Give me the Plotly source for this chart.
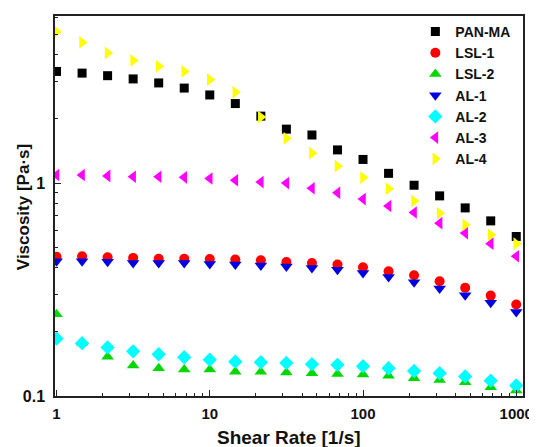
import plotly.graph_objects as go

shear_rate = [1, 1.468, 2.154, 3.162, 4.642, 6.813, 10, 14.68, 21.54, 31.62,
              46.42, 68.13, 100, 146.8, 215.4, 316.2, 464.2, 681.3, 1000]

pan_ma = [3.34, 3.28, 3.19, 3.08, 2.95, 2.79, 2.59, 2.36, 2.06, 1.79,
          1.68, 1.43, 1.29, 1.11, 0.976, 0.87, 0.764, 0.664, 0.561]
lsl_1 = [0.450, 0.453, 0.448, 0.445, 0.441, 0.441, 0.440, 0.437, 0.434, 0.426,
         0.421, 0.414, 0.402, 0.385, 0.369, 0.346, 0.322, 0.296, 0.269]
lsl_2 = [0.242, 0.178, 0.153, 0.139, 0.135, 0.133, 0.133, 0.130, 0.130, 0.129,
         0.128, 0.127, 0.126, 0.1245, 0.121, 0.119, 0.116, 0.110, 0.106]
al_1 = [0.429, 0.429, 0.427, 0.421, 0.421, 0.421, 0.417, 0.414, 0.410, 0.406,
        0.399, 0.392, 0.378, 0.362, 0.342, 0.320, 0.297, 0.274, 0.248]
al_2 = [0.186, 0.177, 0.169, 0.162, 0.157, 0.152, 0.148, 0.145, 0.144, 0.143,
        0.141, 0.140, 0.138, 0.135, 0.131, 0.128, 0.1236, 0.118, 0.112]
al_3 = [1.09, 1.09, 1.08, 1.07, 1.07, 1.063, 1.05, 1.03, 1.01, 0.999,
        0.945, 0.90, 0.84, 0.78, 0.727, 0.648, 0.582, 0.519, 0.453]
al_4 = [5.13, 4.57, 4.08, 3.76, 3.53, 3.34, 3.06, 2.67, 2.04, 1.62,
        1.38, 1.20, 1.06, 0.94, 0.824, 0.721, 0.636, 0.571, 0.519]

series = [
    ("PAN-MA", pan_ma, "square", "#000000", 9),
    ("LSL-1", lsl_1, "circle", "#FF0000", 10),
    ("LSL-2", lsl_2, "triangle-up", "#00D800", 11),
    ("AL-1", al_1, "triangle-down", "#0000E0", 11),
    ("AL-2", al_2, "diamond", "#00FFFF", 11),
    ("AL-3", al_3, "triangle-left", "#FF00FF", 11),
    ("AL-4", al_4, "triangle-right", "#FFFF00", 11),
]

x_title = "Shear Rate [1/s]"
y_title = "Viscosity [Pa·s]"
x_major = [1, 10, 100, 1000]
x_labels = ["1", "10", "100", "1000"]
x_minor = [m * d for d in (1, 10, 100) for m in range(2, 10)]
y_major = [0.1, 1]
y_labels = ["0.1", "1"]
y_minor = [m * d for d in (0.1, 1) for m in range(2, 10)]

fig = go.Figure()
for name, vals, sym, col, sz in series:
    fig.add_trace(go.Scatter(
        x=shear_rate, y=vals, mode="markers", name=name,
        marker=dict(symbol=sym, color=col, size=sz, line=dict(width=0)),
    ))

font_main = "Arial, Liberation Sans, sans-serif"
axis_common = dict(
    type="log", showline=True, linecolor="#222", linewidth=1.5, mirror=True,
    showgrid=False, zeroline=False, ticks="inside", ticklen=6, tickwidth=1.3,
    tickcolor="#222", automargin=False,
)

fig.update_xaxes(
    **axis_common, range=[-0.01, 3.044], tickvals=x_major, ticktext=x_labels,
    ticklabelstandoff=3,
    tickfont=dict(family=font_main, size=15, color="#111", weight="bold"),
    minor=dict(tickvals=x_minor, ticks="inside", ticklen=3, tickcolor="#222", tickwidth=1.2),
)
fig.update_yaxes(
    **axis_common, range=[-1, 0.784], tickvals=y_major, ticktext=y_labels,
    ticklabelstandoff=5,
    tickfont=dict(family=font_main, size=16, color="#111", weight="bold"),
    minor=dict(tickvals=y_minor, ticks="inside", ticklen=3, tickcolor="#222", tickwidth=1.2),
)

fig.add_annotation(
    text=x_title, xref="paper", yref="paper", x=0.5, y=0,
    xanchor="center", yanchor="middle", yshift=-41, showarrow=False,
    font=dict(family=font_main, size=19, color="#111", weight="bold"),
)
fig.add_annotation(
    text=y_title, xref="paper", yref="paper", x=0, y=0.497, textangle=-90,
    xanchor="center", yanchor="middle", xshift=-32, showarrow=False,
    font=dict(family=font_main, size=17, color="#111", weight="bold"),
)

# The page body adds an 8px offset, so the figure is sized to fit the window.
fig.update_layout(
    width=529, height=439,
    margin=dict(l=47, r=14, t=8, b=51),
    plot_bgcolor="white", paper_bgcolor="white",
    showlegend=True,
    legend=dict(
        x=0.77, y=1.0, xanchor="left", yanchor="top",
        bgcolor="rgba(0,0,0,0)", borderwidth=0,
        font=dict(family=font_main, size=14, color="#111", weight="bold"),
        itemwidth=30,
    ),
)
fig.write_html("out.html")
